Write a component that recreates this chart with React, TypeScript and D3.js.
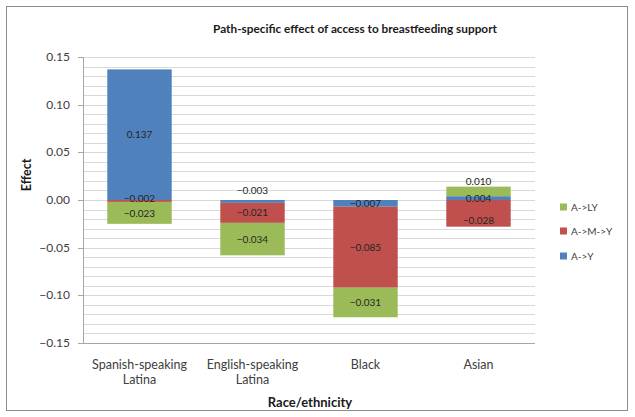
import React from "react";
import * as d3 from "d3";

// Race/ethnicity groups (multi-line axis labels)
const categories: string[][] = [
  ["Spanish-speaking", "Latina"],
  ["English-speaking", "Latina"],
  ["Black"],
  ["Asian"],
];

// Path-specific effects per group, in stacking order
const seriesNames = ["A->Y", "A->M->Y", "A->LY"];
const effectAY = [0.137, -0.003, -0.007, 0.004];
const effectAMY = [-0.002, -0.021, -0.085, -0.028];
const effectALY = [-0.023, -0.034, -0.031, 0.01];

const yTicks = [0.15, 0.1, 0.05, 0, -0.05, -0.1, -0.15];

const colors: Record<string, string> = {
  "A->Y": "#4F81BD",
  "A->M->Y": "#C0504D",
  "A->LY": "#9BBB59",
};

// A few data labels are shifted off their segment centre to stay readable
const labelNudge: Record<string, number> = {
  "0|A->M->Y": -2.5,
  "0|A->LY": 0.5,
  "1|A->Y": -11,
  "3|A->LY": -10,
  "3|A->M->Y": 7,
};

const W = 635;
const H = 417;
const plot = { left: 83, right: 535, top: 57, bottom: 343 };
const FONT = "Lato, 'Open Sans', 'Liberation Sans', sans-serif";

export default function App() {
  const rows = categories.map((c, i) => ({
    idx: i,
    "A->Y": effectAY[i],
    "A->M->Y": effectAMY[i],
    "A->LY": effectALY[i],
  }));

  const stack = d3
    .stack<any>()
    .keys(seriesNames)
    .offset(d3.stackOffsetDiverging);
  const stacked = stack(rows as any);

  const x = d3
    .scaleBand<number>()
    .domain(rows.map((r) => r.idx))
    .range([plot.left, plot.right])
    .paddingInner(0.43)
    .paddingOuter(0.215);

  const y = d3.scaleLinear().domain([-0.15, 0.15]).range([plot.bottom, plot.top]);

  const minorGrid = d3.range(-15, 16).map((k) => k / 100);
  const fmtTick = d3.format(".2f");
  const fmtLabel = d3.format(".3f");

  const legendY = [207, 231, 256];
  const legendOrder = ["A->LY", "A->M->Y", "A->Y"];

  return (
    <svg
      width={W}
      height={H}
      style={{ position: "absolute", left: 0, top: 0, background: "#fff" }}
      fontFamily={FONT}
    >
      <rect x={6.5} y={6.5} width={621} height={404} fill="#fff" stroke="#8c8c8c" strokeWidth={1} />

      <text x={355} y={33} textAnchor="middle" fontSize={11.8} fontWeight="bold" fill="#1a1a1a">
        Path-specific effect of access to breastfeeding support
      </text>

      {/* gridlines every 0.01 */}
      {minorGrid.map((v) => (
        <line
          key={v}
          x1={plot.left}
          x2={plot.right}
          y1={Math.round(y(v)) + 0.5}
          y2={Math.round(y(v)) + 0.5}
          stroke="#d9d9d9"
          strokeWidth={1}
        />
      ))}

      {/* y axis */}
      <line x1={plot.left + 0.5} x2={plot.left + 0.5} y1={plot.top} y2={plot.bottom} stroke="#a6a6a6" />
      {yTicks.map((t) => (
        <g key={t}>
          <line
            x1={plot.left - 5}
            x2={plot.left}
            y1={Math.round(y(t)) + 0.5}
            y2={Math.round(y(t)) + 0.5}
            stroke="#a6a6a6"
          />
          <text x={plot.left - 13} y={y(t) + 4} textAnchor="end" fontSize={12} fill="#404040">
            {fmtTick(t)}
          </text>
        </g>
      ))}
      <line x1={plot.left} x2={plot.right} y1={plot.bottom + 0.5} y2={plot.bottom + 0.5} stroke="#a6a6a6" />

      {/* stacked bars */}
      {stacked.map((s) =>
        s.map((d, i) => (
          <rect
            key={s.key + i}
            x={x(i)!}
            width={x.bandwidth()}
            y={y(Math.max(d[0], d[1]))}
            height={Math.abs(y(d[0]) - y(d[1]))}
            fill={colors[s.key]}
          />
        ))
      )}

      {/* data labels */}
      {stacked.map((s) =>
        s.map((d, i) => {
          const v = (rows[i] as any)[s.key] as number;
          const cy = (y(d[0]) + y(d[1])) / 2 + (labelNudge[`${i}|${s.key}`] ?? 0);
          return (
            <text
              key={"l" + s.key + i}
              x={x(i)! + x.bandwidth() / 2}
              y={cy + 3.5}
              textAnchor="middle"
              fontSize={10}
              fill="#262626"
            >
              {fmtLabel(v)}
            </text>
          );
        })
      )}

      {/* category labels */}
      {categories.map((lines, i) => (
        <text
          key={"c" + i}
          x={x(i)! + x.bandwidth() / 2}
          y={369}
          textAnchor="middle"
          fontSize={12.5}
          fill="#404040"
        >
          {lines.map((ln, j) => (
            <tspan key={j} x={x(i)! + x.bandwidth() / 2} dy={j === 0 ? 0 : 15}>
              {ln}
            </tspan>
          ))}
        </text>
      ))}

      <text x={310} y={407} textAnchor="middle" fontSize={13} fontWeight="bold" fill="#1a1a1a">
        Race/ethnicity
      </text>
      <text
        transform={`translate(31,${(plot.top + plot.bottom) / 2 - 25}) rotate(-90)`}
        textAnchor="middle"
        fontSize={12.5}
        fontWeight="bold"
        fill="#1a1a1a"
      >
        Effect
      </text>

      {/* legend */}
      {legendOrder.map((k, i) => (
        <g key={k}>
          <rect x={560} y={legendY[i] - 3.5} width={7} height={7} fill={colors[k]} />
          <text x={571} y={legendY[i] + 3.5} fontSize={10} fill="#404040">
            {k}
          </text>
        </g>
      ))}
    </svg>
  );
}
